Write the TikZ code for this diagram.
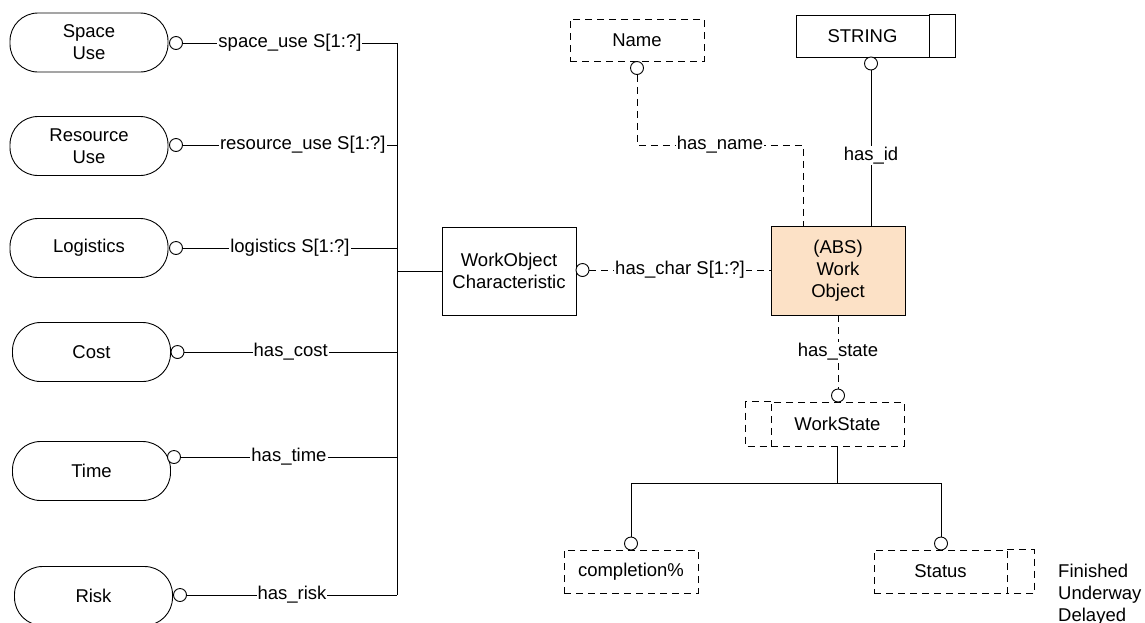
\documentclass[tikz,border=0pt]{standalone}
\usepackage{fontspec}
\setmainfont{Liberation Sans}
\usetikzlibrary{calc}
\definecolor{absfill}{RGB}{252,225,198}
\newcommand\dfont{\fontsize{18.5}{22}\selectfont}
\tikzset{
  every node/.style={font=\dfont},
  ln/.style={line width=0.9pt, draw=black},
  dl/.style={ln, dash pattern=on 7pt off 5pt},
  stadium/.style={ln, rectangle, rounded corners=28pt, minimum width=158pt, minimum height=59pt, align=center, inner sep=0pt},
  ent/.style={ln, rectangle, minimum width=134pt, minimum height=42pt, align=center, inner sep=0pt},
  dent/.style={ent, dash pattern=on 7pt off 5pt},
  opt/.style={ln, circle, fill=white, minimum size=13pt, inner sep=0pt},
  lbl/.style={fill=white, inner sep=1pt},
}
\begin{document}
\begin{tikzpicture}[x=1pt, y=-1pt]
\useasboundingbox (0,0) rectangle (1145,622);

% select types on the left
\node[stadium] (space) at (89,42.5) {Space\\Use};
\node[stadium] (resource) at (89,146) {Resource\\Use};
\node[stadium] (logistics) at (89,248) {Logistics};
\node[stadium] (cost) at (91.5,352) {Cost};
\node[stadium] (time) at (91.5,471) {Time};
\node[stadium] (risk) at (93.5,596) {Risk};

\node[opt] (cspace) at (176,43) {};
\node[opt] (cres) at (176,145) {};
\node[opt] (clog) at (176,248) {};
\node[opt] (ccost) at (177.5,352) {};
\node[opt] (ctime) at (174,457) {};
\node[opt] (crisk) at (180,595) {};

% bus collecting the attributes
\coordinate (bustop) at (397,43);
\coordinate (busbot) at (397,595);
\draw[ln] (bustop) -- (busbot);

\draw[ln] (cspace.east) -- node[lbl,pos=0.5]{space\_use S[1:?]} (cspace -| bustop);
\draw[ln] (cres.east) -- node[lbl,pos=0.56]{resource\_use S[1:?]} (cres -| bustop);
\draw[ln] (clog.east) -- node[lbl,pos=0.5]{logistics S[1:?]} (clog -| bustop);
\draw[ln] (ccost.east) -- node[lbl,pos=0.5]{has\_cost} (ccost -| bustop);
\draw[ln] (ctime.east) -- node[lbl,pos=0.5]{has\_time} (ctime -| bustop);
\draw[ln] (crisk.east) -- node[lbl,pos=0.5]{has\_risk} (crisk -| bustop);

% characteristic entity
\node[ent, minimum height=88pt] (woc) at (509,271) {WorkObject\\Characteristic};
\draw[ln] (woc.west -| bustop) -- (woc.west);

% abstract work object
\node[ent, fill=absfill, minimum height=89pt] (wo) at (838,270.5) {(ABS)\\Work\\Object};
\node[opt] (cchar) at (582.5,270) {};
\draw[dl] (cchar.east) -- node[lbl]{has\_char S[1:?]} (cchar -| wo.west);

% name
\node[dent] (name) at (637,40) {Name};
\node[opt] (cname) at (637,68) {};
\coordinate (kn) at (803,145);
\draw[dl] (cname.south) |- node[lbl,pos=0.75]{has\_name} (kn) -- (kn |- wo.north);

% identifier
\node[ent, minimum width=133pt] (str) at (862.5,36) {STRING};
\draw[ln] (str.north east) -- ++(26,0) |- (str.south east);
\node[opt] (cstr) at (871,63.5) {};
\draw[ln] (cstr.south) -- node[lbl,pos=0.55]{has\_id} (cstr.south |- wo.north);

% work state
\node[dent, minimum width=133pt, minimum height=44pt] (ws) at (837.5,424) {WorkState};
\draw[dl] (ws.north west) -- ++(-25,0) |- (ws.south west);
\node[opt] (cws) at (838,395.5) {};
\draw[dl] (wo.south) -- node[lbl]{has\_state} (cws.north);

% state attributes
\node[dent, minimum height=43pt] (comp) at (631,571.5) {completion\%};
\node[dent, minimum width=133pt, minimum height=43pt] (stat) at (940.5,571.5) {Status};
\draw[dl] (stat.north east) -- ++(27,0) |- (stat.south east);
\node[opt] (ccomp) at (631,543.5) {};
\node[opt] (cstat) at (941,543.5) {};
\coordinate (fork) at (837.5,483);
\draw[ln] (ws.south) -- (fork);
\draw[ln] (ccomp.north) |- (fork) -| (cstat.north);

\node[anchor=north west, inner sep=0pt, align=left] (vals) at (1058,564) {Finished\\Underway\\Delayed};
\end{tikzpicture}
\end{document}
